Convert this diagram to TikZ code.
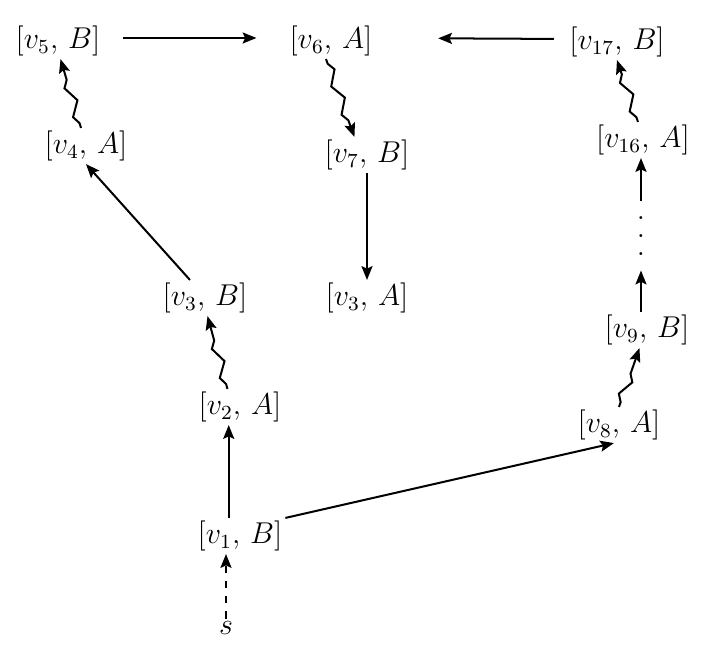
\documentclass[tikz,border=0pt]{standalone}
\usetikzlibrary{arrows.meta, positioning, decorations.pathmorphing}

\newcommand{\talldots}{\vbox{\baselineskip=7pt\lineskiplimit=0pt\hbox{.}\hbox{.}\hbox{.}}}

\begin{document}
\begin{tikzpicture}[x=0.014cm, y=-0.014cm,
    every node/.style={font=\fontsize{12}{14}\selectfont, inner sep=1pt},
    arr/.style={-{Stealth[length=5.5pt, width=4.4pt, inset=1pt]}, line width=0.8pt},
    walk/.style={arr, decorate, decoration={zigzag, segment length=12pt, amplitude=1.8pt,
        pre length=2pt, post length=5pt}}]
    \useasboundingbox (0,0) rectangle (701,655);
    % top row
    \node (v5B) at (58,41) {$[v_5,\, B]$};
    \node (v6A) at (331,41) {$[v_6,\, A]$};
    \node (v17B) at (617,42) {$[v_{17},\, B]$};
    \node (v4A) at (86,146) {$[v_4,\, A]$};
    \node (v7B) at (367,155) {$[v_7,\, B]$};
    \node (v16A) at (643,140) {$[v_{16},\, A]$};
    \node (v3B) at (205,298) {$[v_3,\, B]$};
    \node (v3A) at (367,298) {$[v_3,\, A]$};
    \node (dots) at (641,236) [inner xsep=1pt, inner ysep=6pt] {\talldots};
    \node (v9B) at (647,330) {$[v_9,\, B]$};
    \node (v2A) at (240,407) {$[v_2,\, A]$};
    \node (v8A) at (619,425) {$[v_8,\, A]$};
    \node (v1B) at (240,536) {$[v_1,\, B]$};
    \node (s) at (226,628) {$s$};

    \draw[arr, shorten <=8pt, shorten >=12pt] ([yshift=1.2pt]v5B.east) -- ([yshift=1.2pt]v6A.west);
    \draw[arr, shorten <=5pt, shorten >=25pt] ([yshift=1.2pt]v17B.west) -- ([yshift=1.2pt]v6A.east);
    \draw[walk] ([xshift=-2pt]v4A.north) -- ([xshift=1pt]v5B.south);
    \draw[walk] ([xshift=-2pt]v6A.south) -- ([xshift=-5pt]v7B.north);
    \draw[walk] ([xshift=-2pt]v16A.north) -- (v17B.south);
    \draw[arr] (v7B) -- (v3A);
    \draw[arr] ([xshift=-6pt]v3B.north) -- (v4A.south);
    \draw[walk] ([xshift=-5pt]v2A.north) -- ([xshift=1pt]v3B.south);
    \draw[arr] ([xshift=-4.5pt]v1B.north) -- ([xshift=-4.5pt]v2A.south);
    \draw[arr, dashed] (s) -- (s |- v1B.south);
    \draw[arr] (v1B.north east) -- ([xshift=-2pt]v8A.south);
    \draw[walk] (v8A.north) -- ([xshift=-3pt]v9B.south);
    \draw[arr] (v9B.north -| dots) -- (dots.south);
    \draw[arr] (dots.north) -- (dots |- v16A.south);
\end{tikzpicture}
\end{document}
